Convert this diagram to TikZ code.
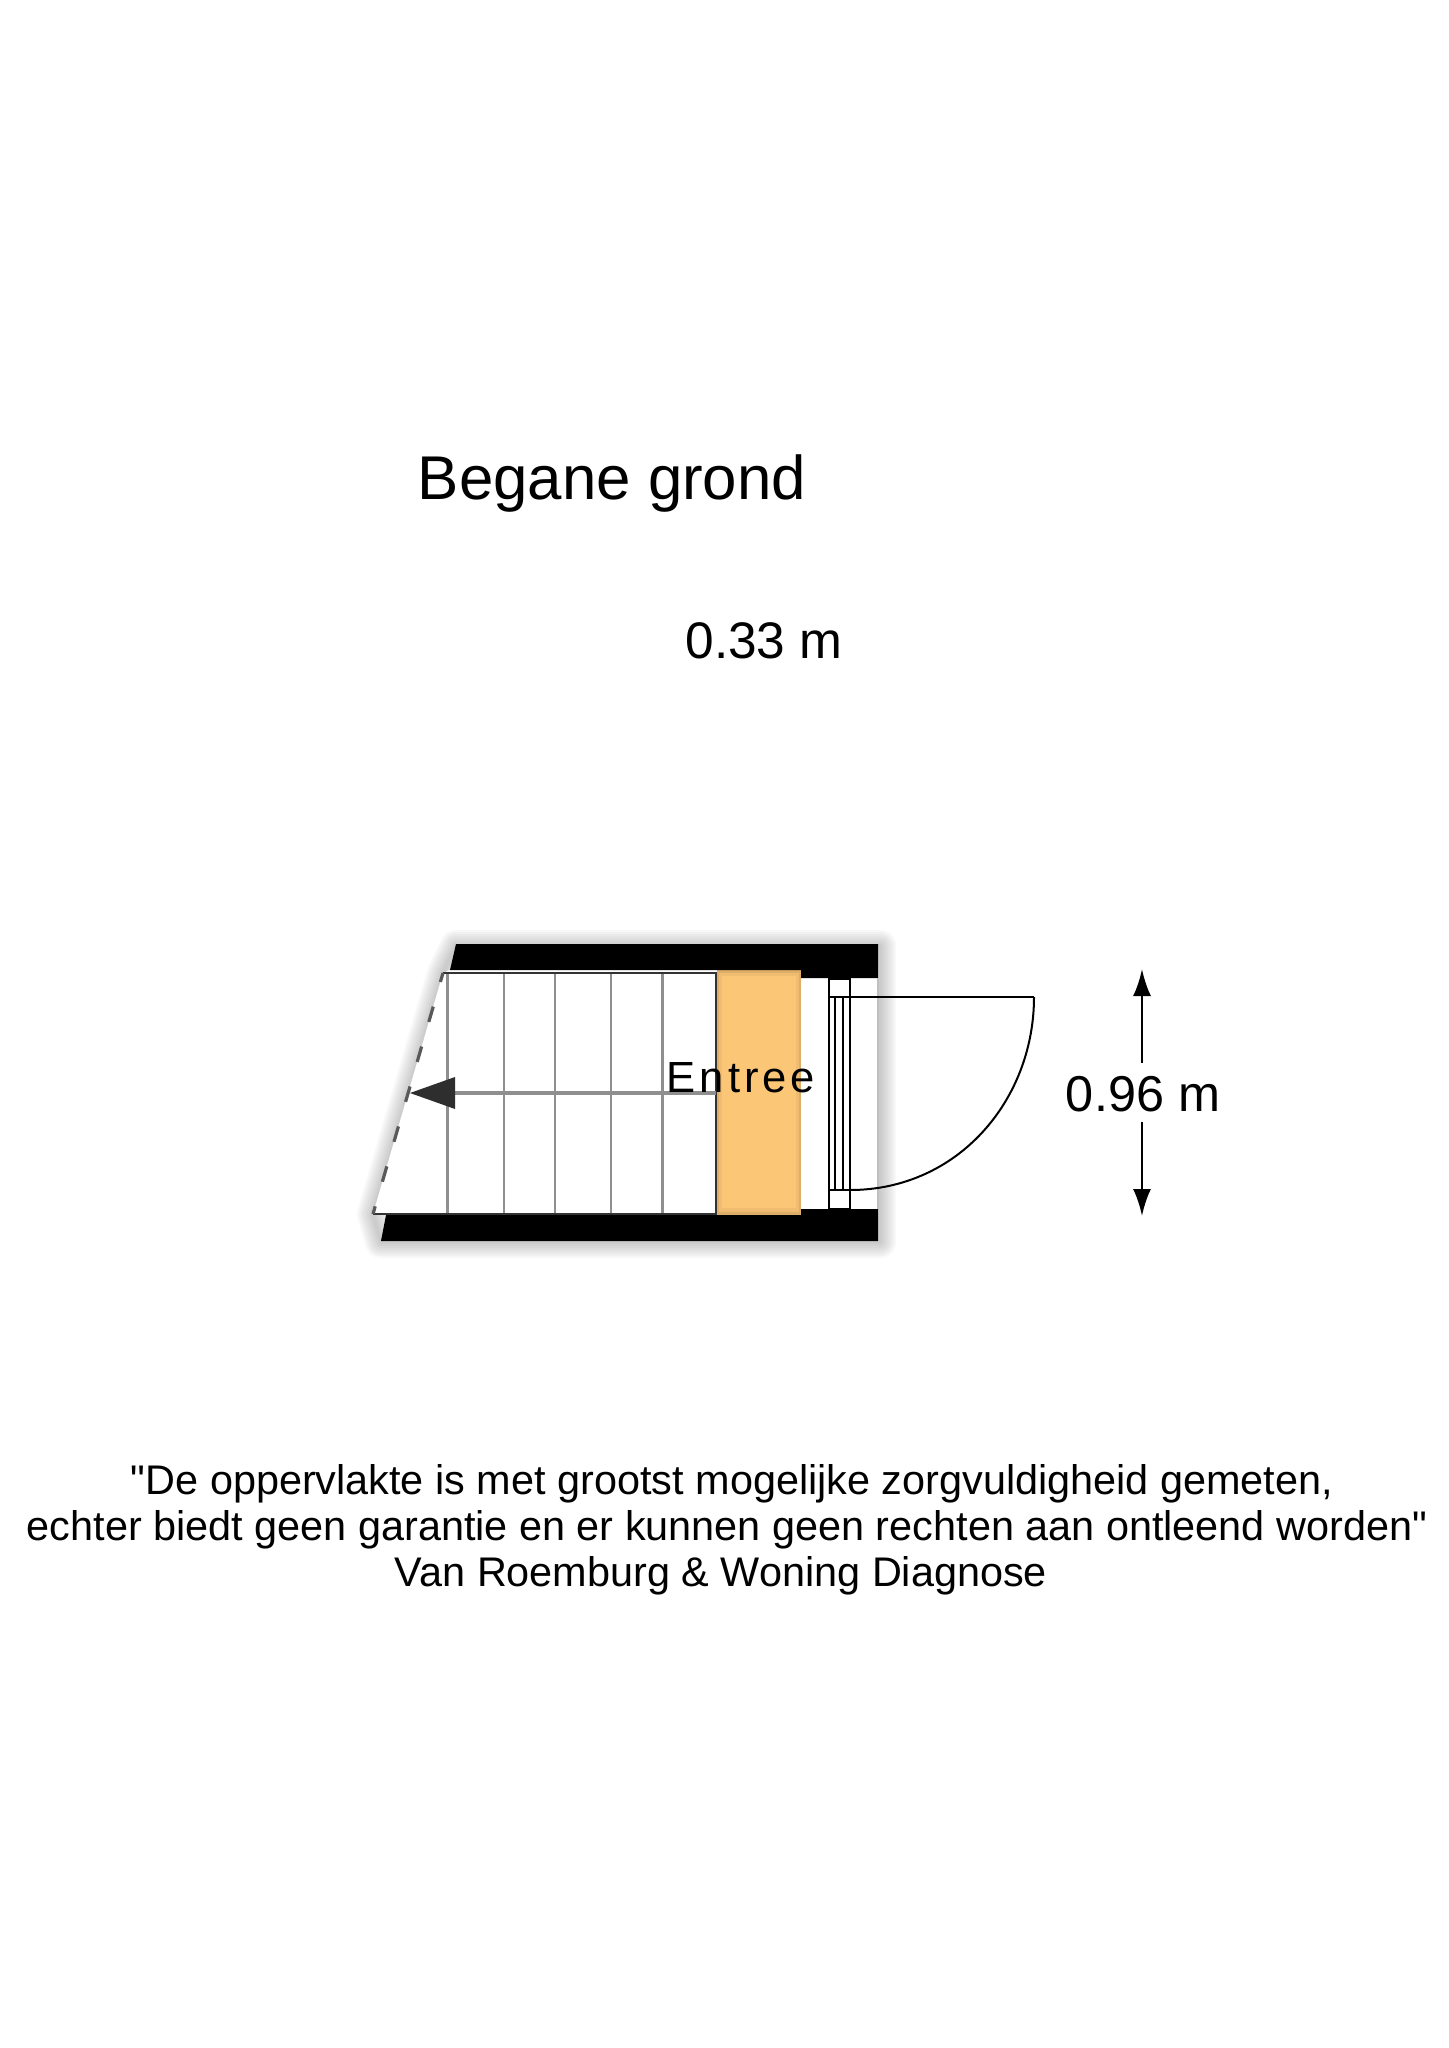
\documentclass[tikz,border=0pt]{standalone}
\usepackage{fontspec}
\setmainfont{Liberation Sans}
\newfontfamily\plainfont{Liberation Sans}
\usetikzlibrary{arrows.meta}
\definecolor{orangefloor}{HTML}{FBC777}
\definecolor{orangemid}{HTML}{EFBC72}
\definecolor{orangeedge}{HTML}{DDAE68}
\definecolor{stepline}{HTML}{8F8F8F}
\definecolor{arrowdark}{HTML}{2E2E2E}
\tikzset{
  wall/.style={fill=black,draw=none},
  stepedge/.style={draw=stepline,line width=1.3pt},
  doorline/.style={draw=black,line width=1pt},
  label/.style={inner sep=0pt,anchor=base},
  shadowline/.style={draw=black,draw opacity=.028,line join=round},
  dim/.style={draw=black,line width=1.3pt,-{Latex[length=13.5pt,width=9pt]}}
}
\begin{document}
\begin{tikzpicture}[x=0.5pt,y=-0.5pt]
\useasboundingbox (0,0) rectangle (1448,2048);
% shadow
\foreach \w in {16,14,12,10,8,6,4,2}{
  \draw[shadowline,line width=\w pt] (456,946)--(880,946)--(880,1242)--(381,1242)--(373,1214)--(443,973)--cycle;
}
\fill[white] (443,973)--(450,970)--(878,970)--(878,1214)--(373,1214)--cycle;
% stairs
\draw[stepedge] (447.5,973)--(447.5,1214) (504,973)--(504,1214) (555,973)--(555,1214) (611,973)--(611,1214) (662.5,973)--(662.5,1214);
\draw[draw=black!80,line width=1pt] (443,973)--(716,973)--(716,1214)--(373,1214);
% orange
\fill[orangeedge] (717,970) rectangle (801,1215);
\fill[orangemid] (719,973) rectangle (799,1212);
\fill[orangefloor] (722,976) rectangle (796,1208);
% walls
\fill[wall] (456,944)--(878,944)--(878,978)--(801,978)--(801,970)--(450,970)--cycle;
\fill[wall] (386,1215)--(801,1215)--(801,1209)--(878,1209)--(878,1241)--(381,1241)--cycle;
\draw[draw=black!25,line width=.8pt] (878,978)--(878,1209);
% stair direction
\draw[draw=stepline,line width=1.7pt] (716,1093)--(450,1093);
\fill[arrowdark] (410,1093)--(455,1077)--(455,1109)--cycle;
\draw[draw=black!65,line width=1.6pt,dash pattern=on 8pt off 12.8pt,dash phase=4pt] (373,1214)--(443,973);
% door
\draw[doorline] (829,979) rectangle (850,1209);
\draw[doorline] (829,997)--(1034,997) (829,1190)--(850,1190);
\draw[doorline,line width=.8pt] (835,997)--(835,1190) (843,997)--(843,1190);
\draw[doorline] (850,1190) .. controls (958,1190) and (1034,1100) .. (1034,997);
% text
\node[label,font=\fontsize{30.9pt}{36pt}\selectfont] (title) at (612,499) {Begane grond};
\node[label,font=\fontsize{25.7pt}{30pt}\selectfont] (topdim) at (764,658) {0.33 m};
\node[label,font=\fontsize{25.2pt}{30pt}\selectfont] (sidedim) at (1143,1111) {0.96 m};
\node[label,font=\fontsize{21.8pt}{26pt}\selectfont\addfontfeature{LetterSpace=9}] (room) at (741,1092) {Entree};
\coordinate (dimup) at (1142,969);
\coordinate (dimupstart) at (1142,1063);
\coordinate (dimdown) at (1142,1216);
\coordinate (dimdownstart) at (1142,1122);
\draw[dim] (dimupstart)--(dimup);
\draw[dim] (dimdownstart)--(dimdown);
\node[label,font=\plainfont\fontsize{20.7pt}{23pt}\selectfont] (l1) at (732,1494) {"De oppervlakte is met grootst mogelijke zorgvuldigheid gemeten,};
\node[label,font=\plainfont\fontsize{20.7pt}{23pt}\selectfont] (l2) at (727,1540) {echter biedt geen garantie en er kunnen geen rechten aan ontleend worden"};
\node[label,font=\plainfont\fontsize{20.7pt}{23pt}\selectfont] (l3) at (721,1586) {Van Roemburg \& Woning Diagnose};
\end{tikzpicture}
\end{document}
